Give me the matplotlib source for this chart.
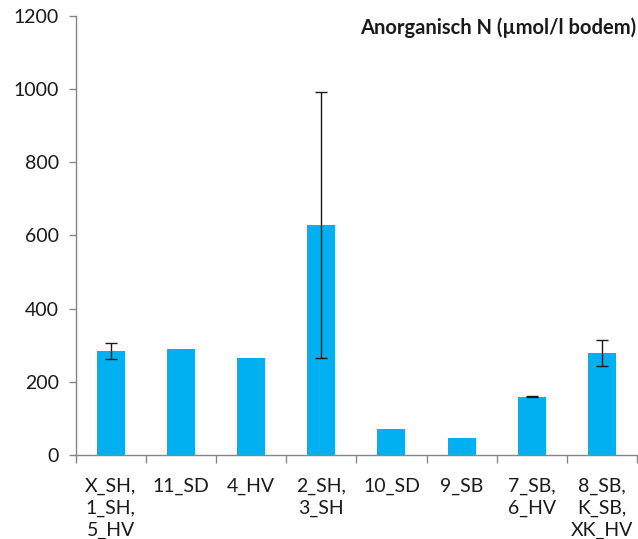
import matplotlib
matplotlib.use("Agg")
import matplotlib.pyplot as plt
import numpy as np

categories = ["X_SH,\n1_SH,\n5_HV", "11_SD", "4_HV", "2_SH,\n3_SH", "10_SD", "9_SB", "7_SB,\n6_HV", "8_SB,\nK_SB,\nXK_HV"]
values = [285, 291, 265, 628, 72, 47, 160, 280]
errors = [22, 0, 0, 363, 0, 0, 2, 35]
has_err = [True, False, False, True, False, False, True, True]
yticks = [0, 200, 400, 600, 800, 1000, 1200]
title = "Anorganisch N (µmol/l bodem)"

plt.rcParams['font.family'] = ['Lato', 'DejaVu Sans']

fig = plt.figure(figsize=(6.38, 5.39), dpi=100)
ax = fig.add_axes([0.1187, 0.1553, 0.8797, 0.8159])

x = np.arange(len(categories))
bar_color = "#00B0F0"
ax.bar(x, values, width=0.40, color=bar_color, zorder=2)
ex = [xi for xi, h in zip(x, has_err) if h]
ev = [v for v, h in zip(values, has_err) if h]
ee = [e for e, h in zip(errors, has_err) if h]
ax.errorbar(ex, ev, yerr=ee, fmt='none', ecolor='#1a1a1a', elinewidth=1.0,
            capsize=4.5, capthick=1.0, zorder=3)

ax.set_xlim(-0.5, len(categories) - 0.5)
ax.set_ylim(0, 1200)
ax.set_yticks(yticks)
ax.set_yticklabels([str(t) for t in yticks], fontsize=14, color='#1a1a1a')

ax.set_xticks(x)
ax.set_xticklabels(categories, fontsize=14, color='#1a1a1a', linespacing=1.35, va='top')
ax.tick_params(axis='x', which='major', length=0, pad=16)
ax.set_xticks(np.arange(-0.5, len(categories) + 0.5, 1), minor=True)
ax.tick_params(axis='x', which='minor', length=6, width=1, color='#868686', direction='out')
ax.tick_params(axis='y', length=5, width=1, color='#868686', direction='out', pad=7)

for s in ['top', 'right']:
    ax.spines[s].set_visible(False)
for s in ['left', 'bottom']:
    ax.spines[s].set_color('#868686')
    ax.spines[s].set_linewidth(1.0)

fig.text(0.997, 0.948, title, ha='right', va='center', fontsize=14.5,
         fontweight='bold', color='#1a1a1a')

fig.savefig("out.png", dpi=100)
